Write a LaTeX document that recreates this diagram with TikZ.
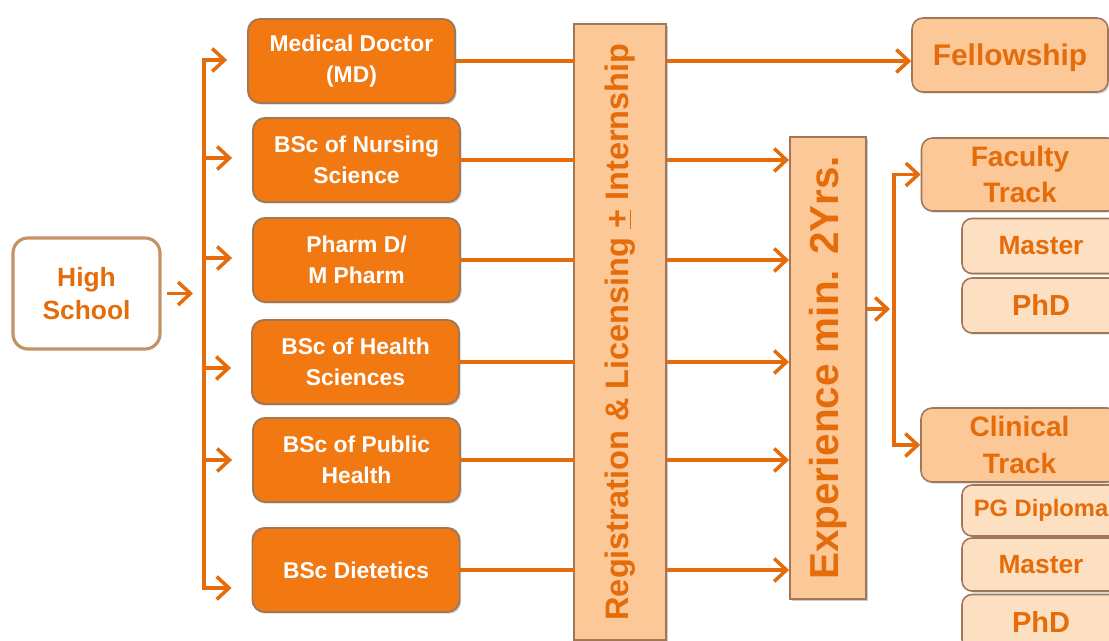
\documentclass[tikz,border=0pt]{standalone}
\usepackage{fontspec}
\setmainfont{Liberation Sans}
\usetikzlibrary{arrows.meta,positioning,calc,shadows}

\definecolor{orgdark}{RGB}{242,120,18}
\definecolor{orgline}{RGB}{228,108,10}
\definecolor{peach}{RGB}{252,200,152}
\definecolor{peachlt}{RGB}{253,224,194}
\definecolor{edge}{RGB}{160,120,88}
\definecolor{hsedge}{RGB}{196,146,100}

\begin{document}
\begin{tikzpicture}[x=0.02cm, y=-0.02cm,
  hsbox/.style={draw=hsedge, line width=1.8pt, fill=white, rounded corners=0.3cm, minimum width=2.94cm, minimum height=2.22cm, align=center, text=orgline, font=\fontsize{15}{19}\selectfont\bfseries},
  prog/.style={draw=edge, line width=1.1pt, fill=orgdark, rounded corners=0.24cm, minimum width=4.14cm, minimum height=1.68cm, align=center, text=white, font=\fontsize{13}{18}\selectfont\bfseries, drop shadow={shadow xshift=1pt, shadow yshift=-1pt, opacity=0.35}},
  bar/.style={draw=edge, line width=1.1pt, fill=peach, text=orgline, rotate=90, inner sep=0pt, drop shadow={shadow xshift=1.2pt, shadow yshift=-1.2pt, opacity=0.4}},
  track/.style={draw=edge, line width=0.9pt, fill=peach, rounded corners=0.22cm, minimum width=3.94cm, minimum height=1.46cm, align=center, text=orgline, font=\fontsize{16}{21}\selectfont\bfseries, drop shadow={shadow xshift=1pt, shadow yshift=-1pt, opacity=0.35}},
  sub/.style={draw=edge, line width=0.9pt, fill=peachlt, rounded corners=0.2cm, minimum width=3.16cm, minimum height=1.1cm, align=center, text=orgline, font=\fontsize{15}{18}\selectfont\bfseries, drop shadow={shadow xshift=1pt, shadow yshift=-1pt, opacity=0.3}},
  arr/.style={-{Straight Barb[length=7pt,width=13pt]}, line width=2pt, orgline},
  link/.style={line width=2pt, orgline, line cap=rect},
]
\useasboundingbox (0,0) rectangle (1109,641);

% High school and programmes
\node[hsbox] (HS) at (86.5,293.5) {High\\School};
\node[prog] (MD) at (351.5,61) {Medical Doctor\\(MD)};
\node[prog] (NS) at (356.5,160) {BSc of Nursing\\Science};
\node[prog] (PH) at (356.5,260) {Pharm D/\\M Pharm};
\node[prog] (HSc) at (355.5,362) {BSc of Health\\Sciences};
\node[prog] (PB) at (356.5,460) {BSc of Public\\Health};
\node[prog] (DT) at (356,570) {BSc Dietetics};

% Registration and experience bars (rotated: north is left, south is right)
\node[bar, minimum width=12.32cm, minimum height=1.84cm, font=\fontsize{18.5}{20}\selectfont\bfseries] (REG) at (620,332) {Registration \& Licensing \underline{+} Internship};
\node[bar, minimum width=9.24cm, minimum height=1.52cm, font=\fontsize{23}{25}\selectfont\bfseries] (EXP) at (828,368) {Experience min. 2Yrs.};

% Tracks
\node[track, minimum width=3.92cm, minimum height=1.48cm, text depth=0pt, font=\fontsize{17}{20}\selectfont\bfseries] (FEL) at (1010,55) {Fellowship};
\node[track] (FT) at (1020,174.5) {Faculty\\Track};
\node[sub] (FM) at (1041,246) {Master};
\node[sub, font=\fontsize{16.5}{18}\selectfont\bfseries] (FP) at (1041,305.5) {PhD};
\node[track, minimum height=1.48cm] (CT) at (1019.5,445) {Clinical\\Track};
\node[sub, minimum height=1.02cm, font=\fontsize{13.5}{16}\selectfont\bfseries] (CD) at (1041,510.5) {PG Diploma};
\node[sub, minimum height=1.06cm] (CM) at (1041,564.5) {Master};
\node[sub, font=\fontsize{16.5}{18}\selectfont\bfseries] (CP) at (1041,622) {PhD};

% High school to programmes
\coordinate (T1) at (204,60);
\coordinate (T2) at (204,588);
\draw[link] (T1) -- (T2);
\draw[arr] ([xshift=0.1cm]HS.east) -- ([xshift=-0.22cm]HS.east -| T1);
\foreach \n/\y in {MD/60, NS/158, PH/258, HSc/368, PB/460, DT/588}
  \draw[arr] (T1 |- 0,\y) -- ([xshift=-0.4cm]\n.west |- 0,\y);

% Programmes through the bars
\foreach \n in {MD,NS,PH,HSc,PB,DT}
  \draw[link] (\n.east) -- (\n.east -| REG.north);
\draw[arr] (MD.east -| REG.south) -- (MD.east -| FEL.west);
\foreach \n in {NS,PH,HSc,PB,DT}
  \draw[arr] (\n.east -| REG.south) -- (\n.east -| EXP.north);

% Experience to the two tracks
\coordinate (J) at (894,309);
\draw[arr] (EXP.south |- J) -- ([xshift=-0.08cm]J);
\draw[arr] (J) -- (J |- FT.west) -- (FT.west);
\draw[arr] (J) -- (J |- CT.west) -- (CT.west);

\end{tikzpicture}
\end{document}
